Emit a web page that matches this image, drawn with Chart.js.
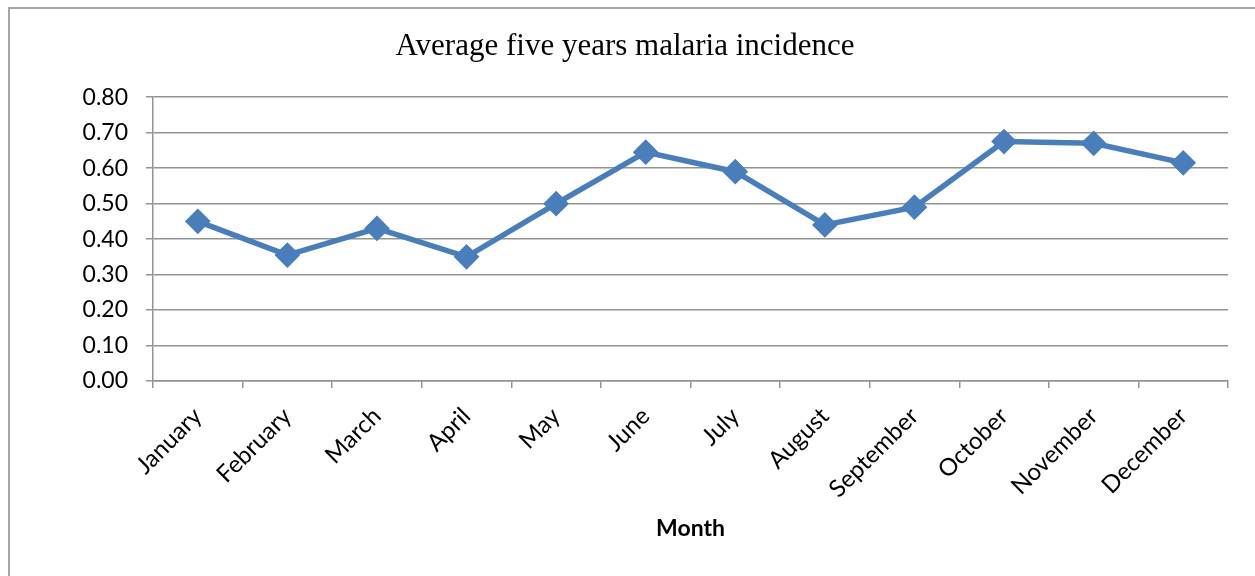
<!DOCTYPE html>
<html>
<head>
<meta charset="utf-8">
<script src="https://cdn.jsdelivr.net/npm/chart.js@4"></script>
<style>
  body { margin: 0; overflow: hidden; background: #fff; }
  #frame {
    position: absolute; left: 8px; top: 7px; width: 1300px; height: 620px;
    border: 2px solid #a6a6a6; box-sizing: border-box;
  }
  #chart { position: absolute; left: 0; top: 0; }
</style>
</head>
<body>
<div id="frame"></div>
<canvas id="chart" width="1255" height="576"></canvas>
<script>
// data
const months = ["January", "February", "March", "April", "May", "June",
    "July", "August", "September", "October", "November", "December"];
const incidence = [0.45, 0.355, 0.43, 0.35, 0.50, 0.645, 0.59, 0.44, 0.49, 0.675, 0.67, 0.615];
const yTicks = [0, 0.1, 0.2, 0.3, 0.4, 0.5, 0.6, 0.7, 0.8];

const gridColor = "#939393";

const ctx = document.getElementById("chart").getContext("2d");

new Chart(ctx, {
    type: "line",
    data: {
        labels: months,
        datasets: [{
            label: "Average",
            data: incidence,
            borderColor: "#4a7ebb",
            backgroundColor: "#4a7ebb",
            borderWidth: 5.5,
            pointStyle: "rectRot",
            pointRadius: 9,
            pointHoverRadius: 9,
            tension: 0
        }]
    },
    options: {
        responsive: false,
        animation: false,
        layout: { padding: { left: 22, right: 27, top: 18, bottom: 0 } },
        plugins: {
            legend: { display: false },
            tooltip: { enabled: false },
            title: {
                display: true,
                text: "Average five years malaria incidence",
                color: "#000",
                font: { family: "Liberation Serif", size: 31, weight: "normal", lineHeight: 1.2 },
                padding: { top: 10, bottom: 32 }
            }
        },
        scales: {
            x: {
                offset: true,
                grid: {
                    offset: true,
                    drawOnChartArea: false,
                    drawTicks: true,
                    tickLength: 7,
                    color: gridColor,
                    lineWidth: 1.5
                },
                border: { color: gridColor, width: 1.5 },
                ticks: {
                    color: "#000",
                    font: { family: "Lato", size: 24 },
                    minRotation: 45,
                    maxRotation: 45,
                    autoSkip: false,
                    padding: 14
                },
                title: {
                    display: true,
                    text: "Month",
                    color: "#000",
                    font: { family: "Lato", size: 23, weight: "bold", lineHeight: 1.2 },
                    padding: { top: 0, bottom: 34 }
                },
                afterFit: (scale) => { scale.height = 195; }
            },
            y: {
                min: 0,
                max: 0.8,
                afterBuildTicks: (scale) => {
                    scale.ticks = yTicks.map((v) => ({ value: v }));
                },
                grid: {
                    color: gridColor,
                    lineWidth: 1.5,
                    drawTicks: true,
                    tickLength: 7
                },
                border: { color: gridColor, width: 1.5 },
                ticks: {
                    color: "#000",
                    font: { family: "Lato", size: 23 },
                    padding: 18,
                    callback: (v) => Number(v).toFixed(2)
                },
                afterFit: (scale) => { scale.width = 131; }
            }
        }
    }
});
</script>
</body>
</html>
